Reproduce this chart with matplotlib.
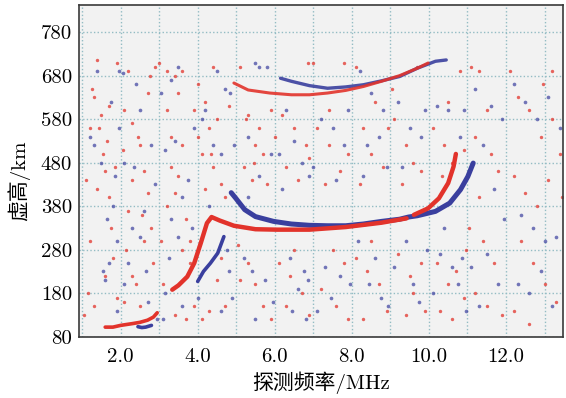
import matplotlib
matplotlib.use("Agg")
import matplotlib.pyplot as plt

# ---------------- data ----------------
xticks = [2.0, 4.0, 6.0, 8.0, 10.0, 12.0]
yticks = [80, 180, 280, 380, 480, 580, 680, 780]

# E / Es traces
e_red_f = [1.6, 1.8, 2.0, 2.3, 2.5, 2.7, 2.85, 2.95]
e_red_h = [102, 102, 106, 110, 113, 118, 125, 135]
e_blue_f = [2.45, 2.55, 2.65, 2.8]
e_blue_h = [103, 101, 102, 106]

# F layer, o-mode (red)
f_red_f = [3.34, 3.5, 3.73, 3.91, 4.08, 4.24, 4.36, 4.57, 4.94, 5.5, 6.06, 6.9,
           7.84, 8.77, 9.42]
f_red_h = [188, 198, 218, 249, 295, 341, 355, 347, 335, 327, 326, 326,
           332, 342, 352]
f_red2_f = [9.61, 9.98, 10.26, 10.5, 10.64, 10.7]
f_red2_h = [360, 375, 398, 433, 471, 500]

# F layer, x-mode (blue)
f_blue1_f = [4.0, 4.15, 4.33, 4.52, 4.68]
f_blue1_h = [207, 230, 249, 272, 310]
f_blue2_f = [4.87, 4.99, 5.22, 5.5, 5.97, 6.43, 6.9, 7.37, 7.84, 8.3, 8.77,
             9.24, 9.47, 9.7, 10.17, 10.54, 10.82, 11.01, 11.15]
f_blue2_h = [411, 398, 372, 356, 345, 339, 336, 335, 335, 339, 345,
             350, 355, 358, 368, 387, 418, 448, 479]

# second-hop traces
m_red_f = [4.94, 5.31, 5.87, 6.43, 6.9, 7.37, 7.84, 8.3, 8.77, 9.24, 9.7, 9.98]
m_red_h = [663, 647, 640, 636, 636, 640, 646, 655, 667, 680, 697, 709]
m_blue_f = [6.15, 6.43, 6.9, 7.37, 7.84, 8.3, 8.77, 9.24, 9.7, 10.17, 10.45]
m_blue_h = [674, 667, 657, 651, 654, 659, 668, 678, 697, 713, 716]

# scattered echoes (noise)
noise_red_f = [1.1, 1.25, 1.3, 1.4, 1.5, 1.55, 1.6, 1.7, 1.75, 1.4, 1.2, 1.15, 1.05, 1.3, 1.6, 1.8, 1.9, 1.45, 1.7, 1.9, 1.2, 1.85, 1.65,
               2.1, 2.3, 2.5, 2.6, 2.3, 2.2, 2.7, 2.8, 2.6, 2.3, 2.4, 2.1, 2.5, 2.7, 2.9, 2.2, 2.45, 2.75, 2.15, 2.85, 2.05, 2.55,
               3.0, 3.2, 3.4, 3.6, 3.5, 3.3, 3.6, 3.5, 3.4, 3.2, 3.7, 3.8, 3.6, 3.8, 3.2, 3.9, 3.1, 3.4, 3.7, 3.9, 3.3, 3.05,
               4.0, 4.2, 4.4, 4.5, 4.3, 4.1, 4.4, 4.6, 4.2, 4.7, 4.5, 4.7, 4.3, 4.1, 4.6, 4.8, 4.0, 4.35,
               5.1, 5.3, 5.5, 5.7, 5.2, 5.4, 5.8, 5.1, 5.3, 5.5, 5.7, 5.9, 5.25, 5.6, 5.9, 5.45, 5.05,
               6.2, 6.5, 6.8, 6.3, 6.6, 6.9, 6.1, 6.4, 6.7, 6.3, 6.9, 6.5, 6.0, 6.85,
               7.1, 7.4, 7.7, 7.3, 7.9, 7.5, 7.8, 7.2, 7.6, 7.9, 7.0, 7.8, 7.4,
               8.1, 8.3, 8.5, 8.8, 8.2, 8.6, 8.1, 8.4, 8.7, 8.9, 8.3, 8.5, 8.95,
               9.1, 9.4, 9.6, 9.8, 9.3, 9.2, 9.5, 9.8, 9.6, 9.9, 9.4, 9.7, 9.05,
               10.1, 10.4, 10.6, 10.9, 10.5, 10.8, 10.2, 10.5, 10.7, 10.9, 10.3, 10.6, 10.95, 10.35,
               11.1, 11.3, 11.5, 11.2, 11.6, 11.8, 11.4, 11.7, 11.2, 11.5, 11.9, 11.3, 11.05,
               12.1, 12.3, 12.6, 12.9, 13.2, 13.4, 12.2, 12.5, 12.8, 13.1, 13.45, 12.4, 12.7, 13.0, 13.3, 12.2, 12.6, 13.2, 12.95]
noise_red_h = [440, 650, 630, 715, 590, 500, 460, 400, 330, 420, 300, 180, 130, 150, 220, 260, 170, 560, 610, 710, 560, 470, 530,
               600, 570, 520, 460, 440, 370, 410, 330, 300, 220, 200, 160, 150, 640, 700, 690, 540, 680, 280, 250, 510, 360,
               710, 690, 680, 690, 640, 540, 520, 450, 410, 380, 350, 300, 280, 250, 600, 600, 200, 130, 120, 150, 470, 300,
               660, 620, 700, 580, 560, 500, 470, 430, 420, 400, 210, 150, 140, 120, 260, 610, 540, 500,
               700, 590, 520, 500, 470, 440, 430, 210, 250, 200, 150, 120, 580, 560, 600, 480, 290,
               590, 560, 520, 470, 440, 490, 250, 220, 180, 150, 130, 280, 540, 710,
               560, 520, 460, 430, 500, 280, 250, 190, 150, 120, 710, 710, 600,
               700, 560, 500, 470, 430, 620, 260, 230, 200, 140, 120, 300, 560,
               580, 520, 480, 460, 430, 270, 220, 250, 180, 140, 130, 700, 650,
               560, 520, 480, 510, 620, 690, 250, 200, 230, 170, 140, 120, 280, 450,
               700, 690, 600, 540, 500, 460, 300, 250, 180, 150, 130, 400, 330,
               690, 630, 600, 540, 580, 500, 450, 410, 380, 440, 400, 300, 250, 200, 160, 140, 110, 690, 660]
noise_blue_f = [1.4, 1.2, 1.5, 1.55, 1.6, 1.7, 1.65, 1.8, 1.9, 1.3, 1.75, 1.95, 1.95, 1.9, 1.85,
                2.05, 2.1, 2.35, 2.5, 2.6, 2.5, 2.2, 2.1, 2.7, 2.8, 2.9, 2.4, 2.65, 2.95, 2.3,
                3.05, 3.3, 3.5, 3.15, 3.4, 3.6, 3.3, 3.25, 3.15, 3.6, 3.85, 3.75, 3.9, 3.5, 3.1,
                4.2, 4.5, 4.7, 4.85, 4.4, 4.6, 4.1, 4.3, 4.75, 4.8, 4.9, 4.6, 4.0, 4.95,
                5.5, 5.6, 5.8, 5.3, 5.6, 5.9, 5.2, 5.4, 5.75, 5.95, 5.5, 5.3,
                6.3, 6.5, 6.7, 6.1, 6.9, 6.4, 6.75, 6.85, 6.6, 6.45, 6.8, 6.2,
                7.2, 7.5, 7.8, 7.0, 7.6, 7.3, 7.7, 7.95, 7.45, 7.1, 7.9,
                8.2, 8.5, 8.8, 8.4, 8.7, 8.9, 8.15, 8.45, 8.75, 8.6, 8.95, 8.3,
                9.2, 9.5, 9.8, 9.3, 9.1, 9.6, 9.75, 9.95, 9.4, 9.9,
                10.2, 10.5, 10.8, 10.9, 10.3, 10.6, 10.85, 10.75, 10.1, 10.4, 10.95,
                11.2, 11.6, 11.9, 11.4, 11.7, 11.1, 11.5, 11.8, 11.3, 11.95,
                12.2, 12.5, 12.8, 13.1, 13.4, 12.4, 12.7, 13.0, 13.3, 12.3, 12.9, 13.2, 12.6]
noise_blue_h = [690, 540, 480, 230, 210, 250, 350, 380, 140, 520, 620, 690, 560, 300, 450,
                685, 480, 470, 600, 370, 310, 250, 200, 160, 520, 430, 660, 230, 120, 330,
                640, 670, 700, 510, 530, 400, 350, 260, 180, 150, 330, 440, 560, 310, 120,
                600, 690, 650, 640, 520, 500, 580, 380, 280, 230, 170, 140, 170, 520,
                710, 700, 700, 540, 450, 500, 260, 230, 210, 160, 120, 400,
                600, 530, 480, 500, 450, 260, 230, 210, 190, 140, 120, 420,
                580, 560, 520, 470, 440, 240, 220, 200, 170, 140, 600,
                690, 640, 600, 520, 540, 470, 300, 200, 170, 260, 150, 450,
                620, 560, 540, 470, 240, 200, 160, 280, 300, 600,
                610, 600, 540, 600, 270, 240, 260, 200, 180, 330, 140,
                650, 610, 580, 520, 420, 240, 270, 200, 150, 350,
                660, 620, 580, 630, 560, 360, 330, 300, 310, 200, 230, 150, 180]

# ---------------- style ----------------
RED = "#e2332b"
BLUE = "#3a3f9e"
num_font = ["cmr10", "Noto Sans CJK SC"]
plt.rcParams["axes.formatter.use_mathtext"] = True

fig = plt.figure(figsize=(5.66, 3.98), dpi=100)
ax = fig.add_axes([79 / 566, 1 - 336.7 / 398, (563 - 79) / 566, (336.7 - 4.7) / 398])
ax.set_facecolor("#f2f2f2")

ax.set_xlim(0.92, 13.48)
ax.set_ylim(80, 843)

ax.set_xticks(xticks)
ax.set_xticklabels([f"{t:.1f}" for t in xticks])
ax.set_xticks(list(range(1, 14)), minor=True)
ax.set_yticks(yticks)
ax.set_yticklabels([str(t) for t in yticks])

ax.grid(True, which="both", axis="x", color="#93bcc4", linestyle=(0, (1, 1.6)), linewidth=1.0)
ax.grid(True, which="major", axis="y", color="#93bcc4", linestyle=(0, (1, 1.6)), linewidth=1.0)
ax.set_axisbelow(True)
ax.tick_params(which="both", length=0)
ax.tick_params(axis="y", pad=5)
ax.tick_params(axis="x", pad=8)
for lab in ax.get_xticklabels() + ax.get_yticklabels():
    lab.set_fontfamily(num_font)
    lab.set_fontsize(15)
for s in ax.spines.values():
    s.set_color("#3a3a3a")
    s.set_linewidth(1.2)

# noise
ax.scatter(noise_red_f, noise_red_h, s=6, color=RED, alpha=0.75, linewidths=0, zorder=2)
ax.scatter(noise_blue_f, noise_blue_h, s=7, color=BLUE, alpha=0.7, linewidths=0, zorder=2)

# traces
kw = dict(solid_capstyle="round", solid_joinstyle="round", zorder=3)
ax.plot(e_red_f, e_red_h, color=RED, lw=2.6, **kw)
ax.plot(e_blue_f, e_blue_h, color=BLUE, lw=2.6, **kw)
ax.plot(f_blue1_f, f_blue1_h, color=BLUE, lw=2.6, **kw)
ax.plot(f_blue2_f, f_blue2_h, color=BLUE, lw=3.6, **kw)
ax.plot(f_red_f, f_red_h, color=RED, lw=3.2, **kw)
ax.plot(f_red2_f, f_red2_h, color=RED, lw=3.2, **kw)
ax.plot(m_blue_f, m_blue_h, color=BLUE, lw=2.4, alpha=0.9, **kw)
ax.plot(m_red_f, m_red_h, color=RED, lw=2.2, alpha=0.9, **kw)

ax.set_xlabel("探测频率/MHz", fontsize=15, family=num_font, labelpad=4)
ax.set_ylabel("虚高/km", fontsize=15, family=num_font)
ax.yaxis.set_label_coords(-0.1, 0.47)

fig.savefig("out.png", dpi=100)
